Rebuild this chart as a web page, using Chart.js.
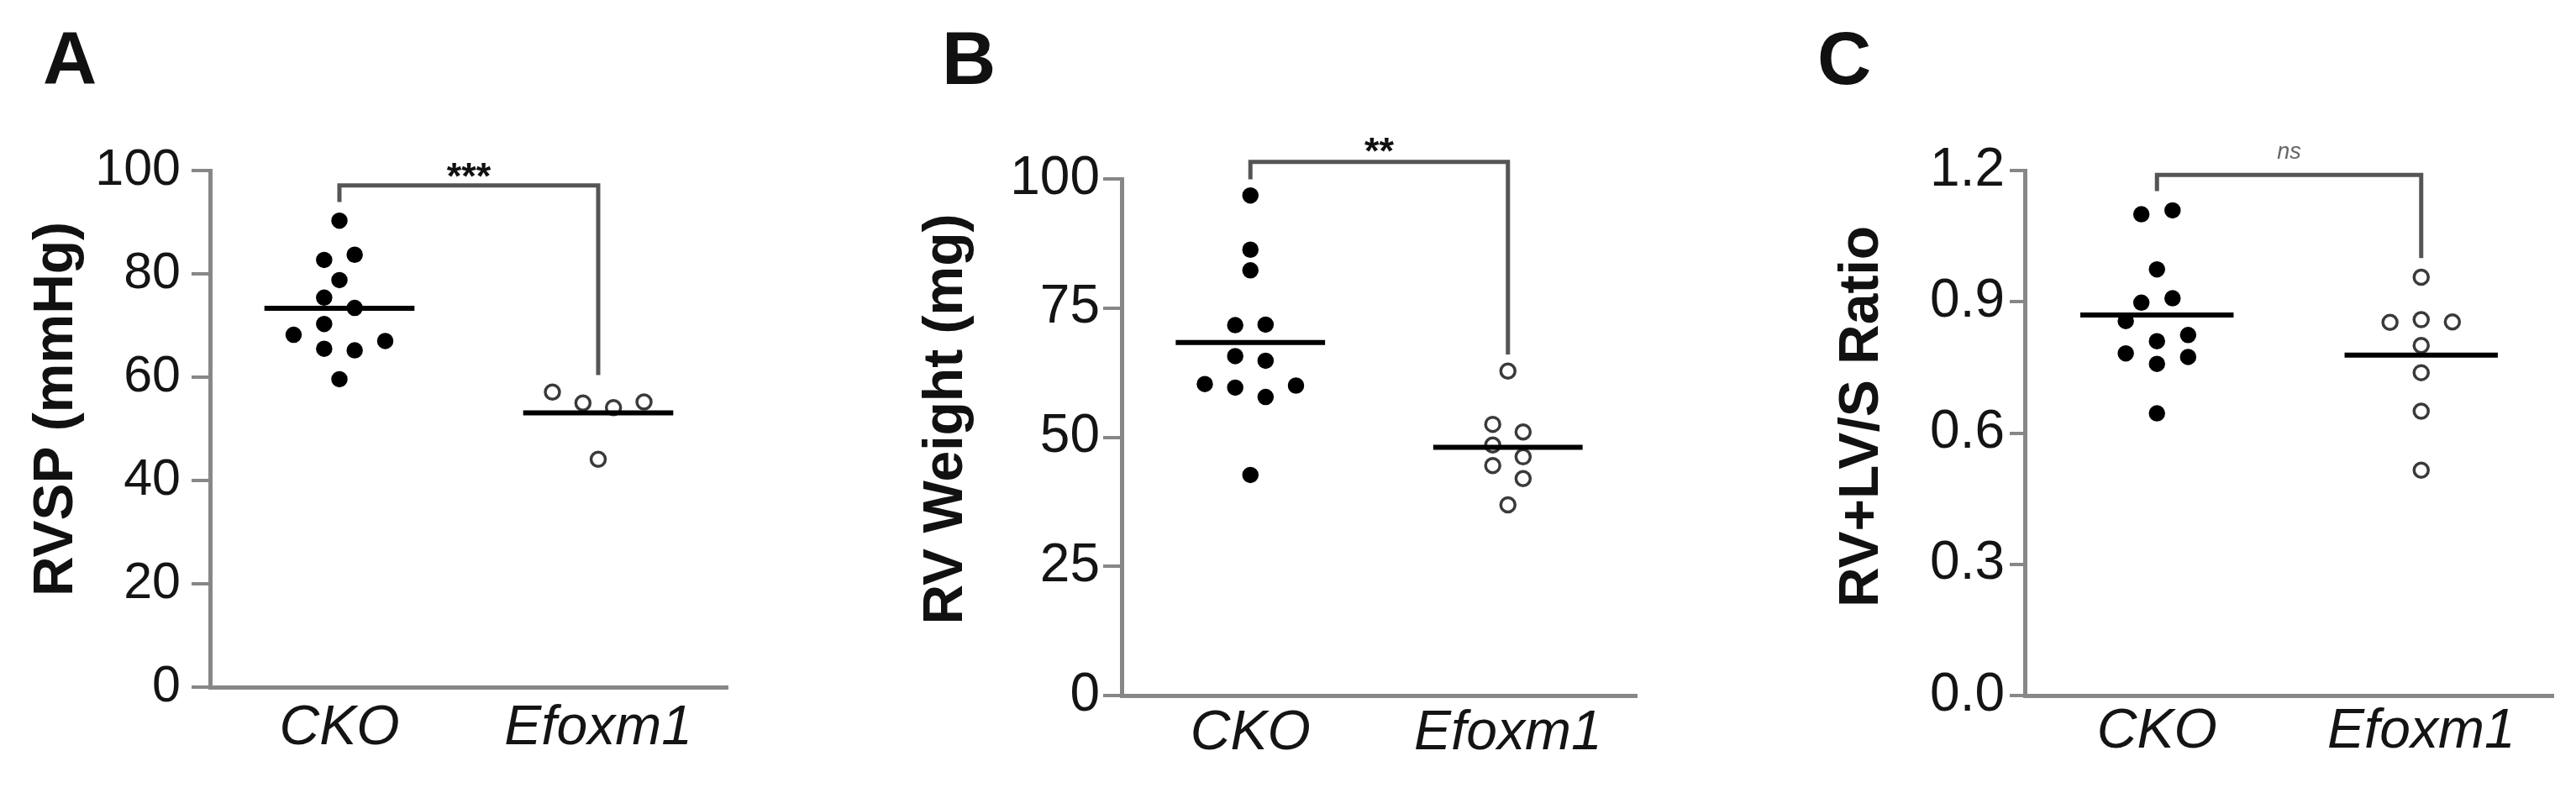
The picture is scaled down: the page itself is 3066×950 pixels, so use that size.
<!DOCTYPE html>
<html>
<head>
<meta charset="utf-8">
<script src="https://cdn.jsdelivr.net/npm/chart.js@4.4.1/dist/chart.umd.min.js"></script>
<style>
  html, body { margin: 0; padding: 0; background: #fff; }
  body { width: 3066px; height: 950px; position: relative; overflow: hidden; }
  canvas { position: absolute; top: 0; }
</style>
</head>
<body>
<canvas id="panelA" width="1000" height="950" style="left:0px"></canvas>
<canvas id="panelB" width="1050" height="950" style="left:1000px"></canvas>
<canvas id="panelC" width="1016" height="950" style="left:2050px"></canvas>
<script>
const groups = ["CKO", "Efoxm1"];

// A - RVSP (mmHg)
const rvspCko = [90.3, 83.7, 82.7, 78.8, 75.4, 73.4, 70.3, 68.2, 67.0, 65.5, 65.2, 59.6];
const rvspCkoSlot = [0, 1, -1, 0, -1, 1, -1, -3, 3, -1, 1, 0];
const rvspEfoxm1 = [57.1, 55.0, 54.1, 55.2, 44.1];
const rvspEfoxm1Slot = [-3, -1, 1, 3, 0];
const rvspTicks = [0, 20, 40, 60, 80, 100];
const rvspTickLabels = ["0", "20", "40", "60", "80", "100"];
const rvspBracket = [93.9, 97.1, 60.4]; // left foot, top, right foot
const rvspSig = "***";
const rvspSigLevel = 100.7;

// B - RV weight (mg)
const rvwCko = [96.8, 86.3, 82.3, 71.7, 71.8, 65.7, 64.8, 60.3, 59.6, 60.0, 57.8, 42.7];
const rvwCkoSlot = [0, 0, 0, -1, 1, -1, 1, -3, -1, 3, 1, 0];
const rvwEfoxm1 = [62.8, 52.5, 51.0, 48.5, 46.2, 44.5, 42.0, 36.9];
const rvwEfoxm1Slot = [0, -1, 1, -1, 1, -1, 1, 0];
const rvwTicks = [0, 25, 50, 75, 100];
const rvwTickLabels = ["0", "25", "50", "75", "100"];
const rvwBracket = [99.9, 103.3, 66.0];
const rvwSig = "**";
const rvwSigLevel = 107.2;

// C - RV+LV/S ratio
const ratioCko = [1.100, 1.109, 0.974, 0.898, 0.908, 0.856, 0.824, 0.810, 0.782, 0.774, 0.758, 0.645];
const ratioCkoSlot = [-1, 1, 0, -1, 1, -2, 2, 0, -2, 2, 0, 0];
const ratioEfoxm1 = [0.956, 0.853, 0.859, 0.854, 0.800, 0.738, 0.650, 0.515];
const ratioEfoxm1Slot = [0, -2, 0, 2, 0, 0, 0, 0];
const ratioTicks = [0, 0.3, 0.6, 0.9, 1.2];
const ratioTickLabels = ["0.0", "0.3", "0.6", "0.9", "1.2"];
const ratioBracket = [1.153, 1.19, 1.0];
const ratioSig = "ns";
const ratioSigLevel = 1.24;

const fontFamily = '"Liberation Sans", Arial, Helvetica, sans-serif';
const textColor = "#141414";
const axisGray = "#878787";
const slotStep = 0.059;   // horizontal spread of dots, in category units
const meanHalf = 0.29;    // half length of the mean bar

function mean(arr) {
  return arr.reduce((a, b) => a + b, 0) / arr.length;
}

function toPoints(values, slots, group) {
  return values.map((v, i) => ({ x: group + slots[i] * slotStep, y: v }));
}

// draws panel letter, rotated y title and significance label
const panelText = {
  id: "panelText",
  afterDraw(chart, args, opts) {
    const ctx = chart.ctx;
    const x = chart.scales.x;
    const y = chart.scales.y;
    ctx.save();
    ctx.fillStyle = "#111";
    ctx.font = "bold 89px " + fontFamily;
    ctx.textAlign = "left";
    ctx.textBaseline = "alphabetic";
    ctx.fillText(opts.letter, opts.letterX, 100);

    // significance mark
    const sx = x.getPixelForValue(1.5);
    const sy = y.getPixelForValue(opts.sigLevel);
    if (opts.sig === "ns") {
      ctx.font = "italic 27px " + fontFamily;
      ctx.fillStyle = "#666";
      ctx.textAlign = "center";
      ctx.fillText(opts.sig, sx, sy + 7);
    } else {
      ctx.font = "bold 45px " + fontFamily;
      ctx.fillStyle = "#111";
      ctx.textAlign = "center";
      ctx.fillText(opts.sig, sx, sy + 26);
    }

    // y axis title
    ctx.translate(opts.titleX, opts.titleY);
    ctx.rotate(-Math.PI / 2);
    ctx.font = "bold 66px " + fontFamily;
    ctx.fillStyle = "#111";
    ctx.textAlign = "center";
    ctx.textBaseline = "middle";
    ctx.fillText(opts.title, 0, 0);
    ctx.restore();
  }
};

function makePanel(cfg) {
  const canvas = document.getElementById(cfg.id);
  const area = cfg.area;
  const ckoMean = mean(cfg.cko);
  const efoMean = mean(cfg.efo);

  return new Chart(canvas.getContext("2d"), {
    type: "scatter",
    data: {
      datasets: [
        {
          data: [{ x: 1 - meanHalf, y: ckoMean }, { x: 1 + meanHalf, y: ckoMean }],
          showLine: true, borderColor: "#000", borderWidth: 6, pointRadius: 0,
          borderCapStyle: "butt", order: 0, clip: false
        },
        {
          data: [{ x: 2 - meanHalf, y: efoMean }, { x: 2 + meanHalf, y: efoMean }],
          showLine: true, borderColor: "#000", borderWidth: 6, pointRadius: 0,
          borderCapStyle: "butt", order: 0, clip: false
        },
        {
          data: toPoints(cfg.cko, cfg.ckoSlot, 1),
          pointRadius: 9, borderWidth: 1.5, backgroundColor: "#000", borderColor: "#000",
          order: 1, clip: false
        },
        {
          data: toPoints(cfg.efo, cfg.efoSlot, 2),
          pointRadius: 8.5, borderWidth: 3.5, backgroundColor: "rgba(255,255,255,0)",
          borderColor: "#3a3a3a", order: 1, clip: false
        },
        {
          data: [
            { x: 1, y: cfg.bracket[0] }, { x: 1, y: cfg.bracket[1] },
            { x: 2, y: cfg.bracket[1] }, { x: 2, y: cfg.bracket[2] }
          ],
          showLine: true, borderColor: "#555", borderWidth: 5, pointRadius: 0,
          borderJoinStyle: "miter", order: 2, clip: false
        }
      ]
    },
    options: {
      responsive: false,
      animation: false,
      devicePixelRatio: 1,
      events: [],
      layout: {
        padding: { left: 0, top: area.top, right: cfg.left + cfg.width - area.right, bottom: 0 }
      },
      plugins: {
        legend: { display: false },
        tooltip: { enabled: false },
        panelText: {
          letter: cfg.letter, letterX: cfg.letterX - cfg.left,
          title: cfg.title, titleX: cfg.titleX - cfg.left, titleY: cfg.titleY,
          sig: cfg.sig, sigLevel: cfg.sigLevel
        }
      },
      scales: {
        x: {
          type: "linear", min: 0.5, max: 2.5,
          afterBuildTicks: s => { s.ticks = groups.map((g, i) => ({ value: i + 1 })); },
          afterFit: s => { s.height = 950 - area.bottom; },
          grid: { display: false, drawTicks: false },
          border: { display: true, color: axisGray, width: 5 },
          ticks: {
            autoSkip: false, maxRotation: 0, padding: cfg.xPad, color: textColor,
            font: { family: fontFamily, size: 66, style: "italic" },
            callback: v => groups[Math.round(v) - 1]
          }
        },
        y: {
          type: "linear", min: cfg.yMin, max: cfg.yMax,
          afterBuildTicks: s => { s.ticks = cfg.yTicks.map(v => ({ value: v })); },
          afterFit: s => { s.width = area.left - cfg.left; },
          grid: {
            display: true, drawOnChartArea: false, drawTicks: true,
            tickLength: cfg.tickLength, color: axisGray, lineWidth: 4
          },
          border: { display: true, color: axisGray, width: 5 },
          ticks: {
            padding: cfg.tickPad, color: textColor,
            font: { family: fontFamily, size: cfg.tickSize },
            callback: (v, i) => cfg.yTickLabels[i]
          }
        }
      }
    },
    plugins: [panelText]
  });
}

makePanel({
  id: "panelA", left: 0, width: 1000,
  area: { left: 250, right: 866, top: 203, bottom: 818 },
  yMin: 0, yMax: 100, yTicks: rvspTicks, yTickLabels: rvspTickLabels,
  tickSize: 61, tickLength: 22, tickPad: 13, xPad: 10,
  cko: rvspCko, ckoSlot: rvspCkoSlot, efo: rvspEfoxm1, efoSlot: rvspEfoxm1Slot,
  bracket: rvspBracket, sig: rvspSig, sigLevel: rvspSigLevel,
  letter: "A", letterX: 51, title: "RVSP (mmHg)", titleX: 68, titleY: 487
});

makePanel({
  id: "panelB", left: 1000, width: 1050,
  area: { left: 1335, right: 1948, top: 213, bottom: 828 },
  yMin: 0, yMax: 100, yTicks: rvwTicks, yTickLabels: rvwTickLabels,
  tickSize: 64, tickLength: 22, tickPad: 4, xPad: 6,
  cko: rvwCko, ckoSlot: rvwCkoSlot, efo: rvwEfoxm1, efoSlot: rvwEfoxm1Slot,
  bracket: rvwBracket, sig: rvwSig, sigLevel: rvwSigLevel,
  letter: "B", letterX: 1121, title: "RV Weight (mg)", titleX: 1127, titleY: 499
});

makePanel({
  id: "panelC", left: 2050, width: 1016,
  area: { left: 2410, right: 3039, top: 203, bottom: 828 },
  yMin: 0, yMax: 1.2, yTicks: ratioTicks, yTickLabels: ratioTickLabels,
  tickSize: 64, tickLength: 18, tickPad: 6, xPad: 4,
  cko: ratioCko, ckoSlot: ratioCkoSlot, efo: ratioEfoxm1, efoSlot: ratioEfoxm1Slot,
  bracket: ratioBracket, sig: ratioSig, sigLevel: ratioSigLevel,
  letter: "C", letterX: 2163, title: "RV+LV/S Ratio", titleX: 2217, titleY: 496
});
</script>
</body>
</html>
